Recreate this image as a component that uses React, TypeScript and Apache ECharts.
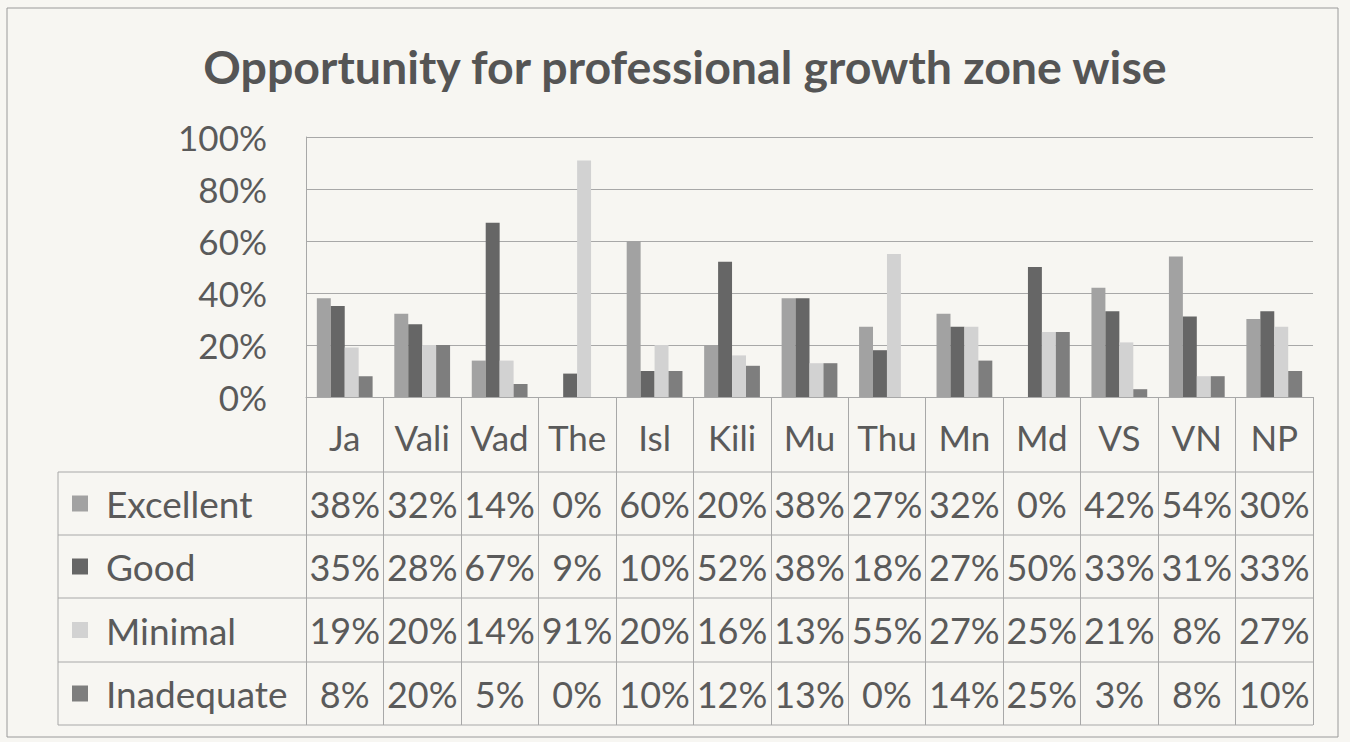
import React, { useEffect, useRef } from "react";
import * as echarts from "echarts";

const categories = ["Ja", "Vali", "Vad", "The", "Isl", "Kili", "Mu", "Thu", "Mn", "Md", "VS", "VN", "NP"];
const seriesNames = ["Excellent", "Good", "Minimal", "Inadequate"];
const excellent = [0.38, 0.32, 0.14, 0.0, 0.6, 0.2, 0.38, 0.27, 0.32, 0.0, 0.42, 0.54, 0.3];
const good = [0.35, 0.28, 0.67, 0.09, 0.1, 0.52, 0.38, 0.18, 0.27, 0.5, 0.33, 0.31, 0.33];
const minimal = [0.19, 0.2, 0.14, 0.91, 0.2, 0.16, 0.13, 0.55, 0.27, 0.25, 0.21, 0.08, 0.27];
const inadequate = [0.08, 0.2, 0.05, 0.0, 0.1, 0.12, 0.13, 0.0, 0.14, 0.25, 0.03, 0.08, 0.1];
const yTicks = [0, 0.2, 0.4, 0.6, 0.8, 1.0];

const seriesValues = [excellent, good, minimal, inadequate];
const seriesColors = ["#a2a2a2", "#666666", "#d2d2d2", "#7e7e7e"];

const FONT = "Lato, 'Open Sans', sans-serif";
const TEXT = "#5a5a5a";
const LINE = "#a8a8a8";

const GRID_LEFT = 306;
const GRID_RIGHT_X = 1313;
const GRID_TOP = 137;
const GRID_BOTTOM_Y = 397;
const TABLE_LEFT = 58;
const ROW_LINES = [472, 535, 598, 662, 725];

const pct = (v: number) => Math.round(v * 100) + "%";

export default function App() {
  const ref = useRef<HTMLDivElement>(null);
  useEffect(() => {
    if (!ref.current) return;
    const chart = echarts.init(ref.current, null, { renderer: "svg" });
    const W = 1350;
    const H = 742;
    const option: any = {
      animation: false,
      backgroundColor: "#f7f6f2",
      title: {
        text: "Opportunity for professional growth zone wise",
        left: 680,
        textAlign: "center",
        top: 37,
        textStyle: { fontFamily: FONT, fontWeight: "bold", fontSize: 46.5, color: "#555555" },
      },
      grid: {
        left: GRID_LEFT,
        right: W - GRID_RIGHT_X,
        top: GRID_TOP,
        bottom: H - GRID_BOTTOM_Y,
        containLabel: false,
      },
      xAxis: {
        type: "category",
        data: categories,
        axisLine: { show: true, lineStyle: { color: LINE, width: 1 } },
        axisTick: { show: true, length: ROW_LINES[ROW_LINES.length - 1] - GRID_BOTTOM_Y, lineStyle: { color: LINE } },
        axisLabel: { fontFamily: FONT, fontSize: 35, color: TEXT, margin: 22, lineHeight: 35 },
      },
      yAxis: {
        type: "value",
        min: 0,
        max: 1,
        interval: 0.2,
        axisLine: { show: true, lineStyle: { color: LINE } },
        axisTick: { show: false },
        splitLine: { lineStyle: { color: LINE, width: 1 } },
        axisLabel: {
          fontFamily: FONT,
          fontSize: 35,
          color: TEXT,
          margin: 39,
          formatter: (v: number) => (yTicks.includes(Math.round(v * 10) / 10) ? pct(v) : ""),
        },
      },
      series: seriesNames.map((name, i) => ({
        name,
        type: "bar",
        data: seriesValues[i],
        barGap: "0%",
        barCategoryGap: "28%",
        itemStyle: { color: seriesColors[i] },
      })),
    };
    chart.setOption(option);

    const graphics: any[] = [];
    graphics.push({
      type: "rect",
      shape: { x: 7, y: 8, width: 1331, height: 729 },
      style: { fill: "none", stroke: "#9a9a9a", lineWidth: 1 },
      silent: true,
    });
    ROW_LINES.forEach((y) => {
      graphics.push({
        type: "line",
        shape: { x1: TABLE_LEFT, y1: y, x2: GRID_RIGHT_X, y2: y },
        style: { stroke: LINE, lineWidth: 1 },
      });
    });
    graphics.push({
      type: "line",
      shape: { x1: TABLE_LEFT, y1: ROW_LINES[0], x2: TABLE_LEFT, y2: ROW_LINES[ROW_LINES.length - 1] },
      style: { stroke: LINE, lineWidth: 1 },
    });
    seriesNames.forEach((name, r) => {
      const yc = (ROW_LINES[r] + ROW_LINES[r + 1]) / 2;
      graphics.push({
        type: "rect",
        shape: { x: 72, y: yc - 8, width: 16, height: 16 },
        style: { fill: seriesColors[r] },
      });
      graphics.push({
        type: "text",
        x: 106,
        y: yc,
        style: { text: name, fontFamily: FONT, fontSize: 37, fill: TEXT, verticalAlign: "middle", align: "left" },
      });
      seriesValues[r].forEach((v, c) => {
        const px = chart.convertToPixel({ xAxisIndex: 0 }, c) as number;
        graphics.push({
          type: "text",
          x: px,
          y: yc,
          style: { text: pct(v), fontFamily: FONT, fontSize: 36, fill: TEXT, verticalAlign: "middle", align: "center" },
        });
      });
    });
    chart.setOption({ graphic: { elements: graphics } });

    return () => chart.dispose();
  }, []);
  return (
    <div
      ref={ref}
      style={{ position: "fixed", left: 0, top: 0, width: 1350, height: 742, background: "#f7f6f2" }}
    />
  );
}
